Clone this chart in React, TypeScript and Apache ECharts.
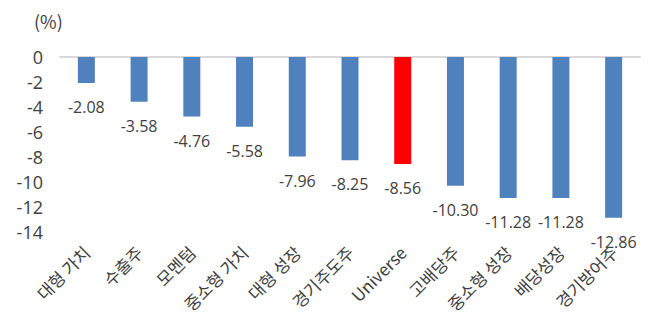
import React, { useEffect, useRef } from "react";
import * as echarts from "echarts";

// Returns by style group (%)
const categories = [
  "대형 가치",
  "수출주",
  "모멘텀",
  "중소형 가치",
  "대형 성장",
  "경기주도주",
  "Universe",
  "고배당주",
  "중소형 성장",
  "배당성장",
  "경기방어주",
];
const returns = [-2.08, -3.58, -4.76, -5.58, -7.96, -8.25, -8.56, -10.3, -11.28, -11.28, -12.86];
const highlight = "Universe";

const FONT = "'Open Sans', 'Noto Sans CJK KR', sans-serif";
const KFONT = "'Noto Sans CJK KR', sans-serif";
const TEXT = "#404040";

export default function App() {
  const ref = useRef<HTMLDivElement>(null);

  useEffect(() => {
    if (!ref.current) return;
    const chart = echarts.init(ref.current, undefined, { renderer: "svg" });
    chart.setOption({
      animation: false,
      textStyle: { fontFamily: FONT },
      graphic: [
        {
          type: "text",
          left: 34,
          top: 12,
          style: { text: "(%)", fontSize: 18, fill: TEXT, fontFamily: KFONT },
        },
      ],
      grid: { left: 60, right: 15, top: 57, bottom: 102 },
      xAxis: [
        {
          type: "category",
          data: categories,
          position: "top",
          axisLine: { show: true, onZero: false, lineStyle: { color: "#d9d9d9", width: 2 } },
          axisTick: { show: false },
          axisLabel: { show: false },
        },
        {
          type: "category",
          data: categories,
          position: "bottom",
          axisLine: { show: false },
          axisTick: { show: false },
          axisLabel: {
            rotate: 45,
            margin: 17,
            fontSize: 17,
            color: TEXT,
            fontFamily: KFONT,
            interval: 0,
          },
        },
      ],
      yAxis: {
        type: "value",
        min: -14,
        max: 0,
        interval: 2,
        axisLine: { show: false },
        axisTick: { show: false },
        splitLine: { show: false },
        axisLabel: { fontSize: 18, color: TEXT, fontFamily: FONT, margin: 17 },
      },
      series: [
        {
          type: "bar",
          xAxisIndex: 0,
          barWidth: 17,
          data: returns.map((v, i) => ({
            value: v,
            itemStyle: { color: categories[i] === highlight ? "#FF0000" : "#4F81BD" },
          })),
          label: {
            show: true,
            position: "bottom",
            distance: 16,
            fontSize: 16,
            color: TEXT,
            fontFamily: FONT,
            formatter: (p: any) => p.value.toFixed(2),
          },
        },
      ],
    });
    return () => chart.dispose();
  }, []);

  return (
    <div
      ref={ref}
      style={{ position: "absolute", left: 0, top: 0, width: 655, height: 334 }}
    />
  );
}
